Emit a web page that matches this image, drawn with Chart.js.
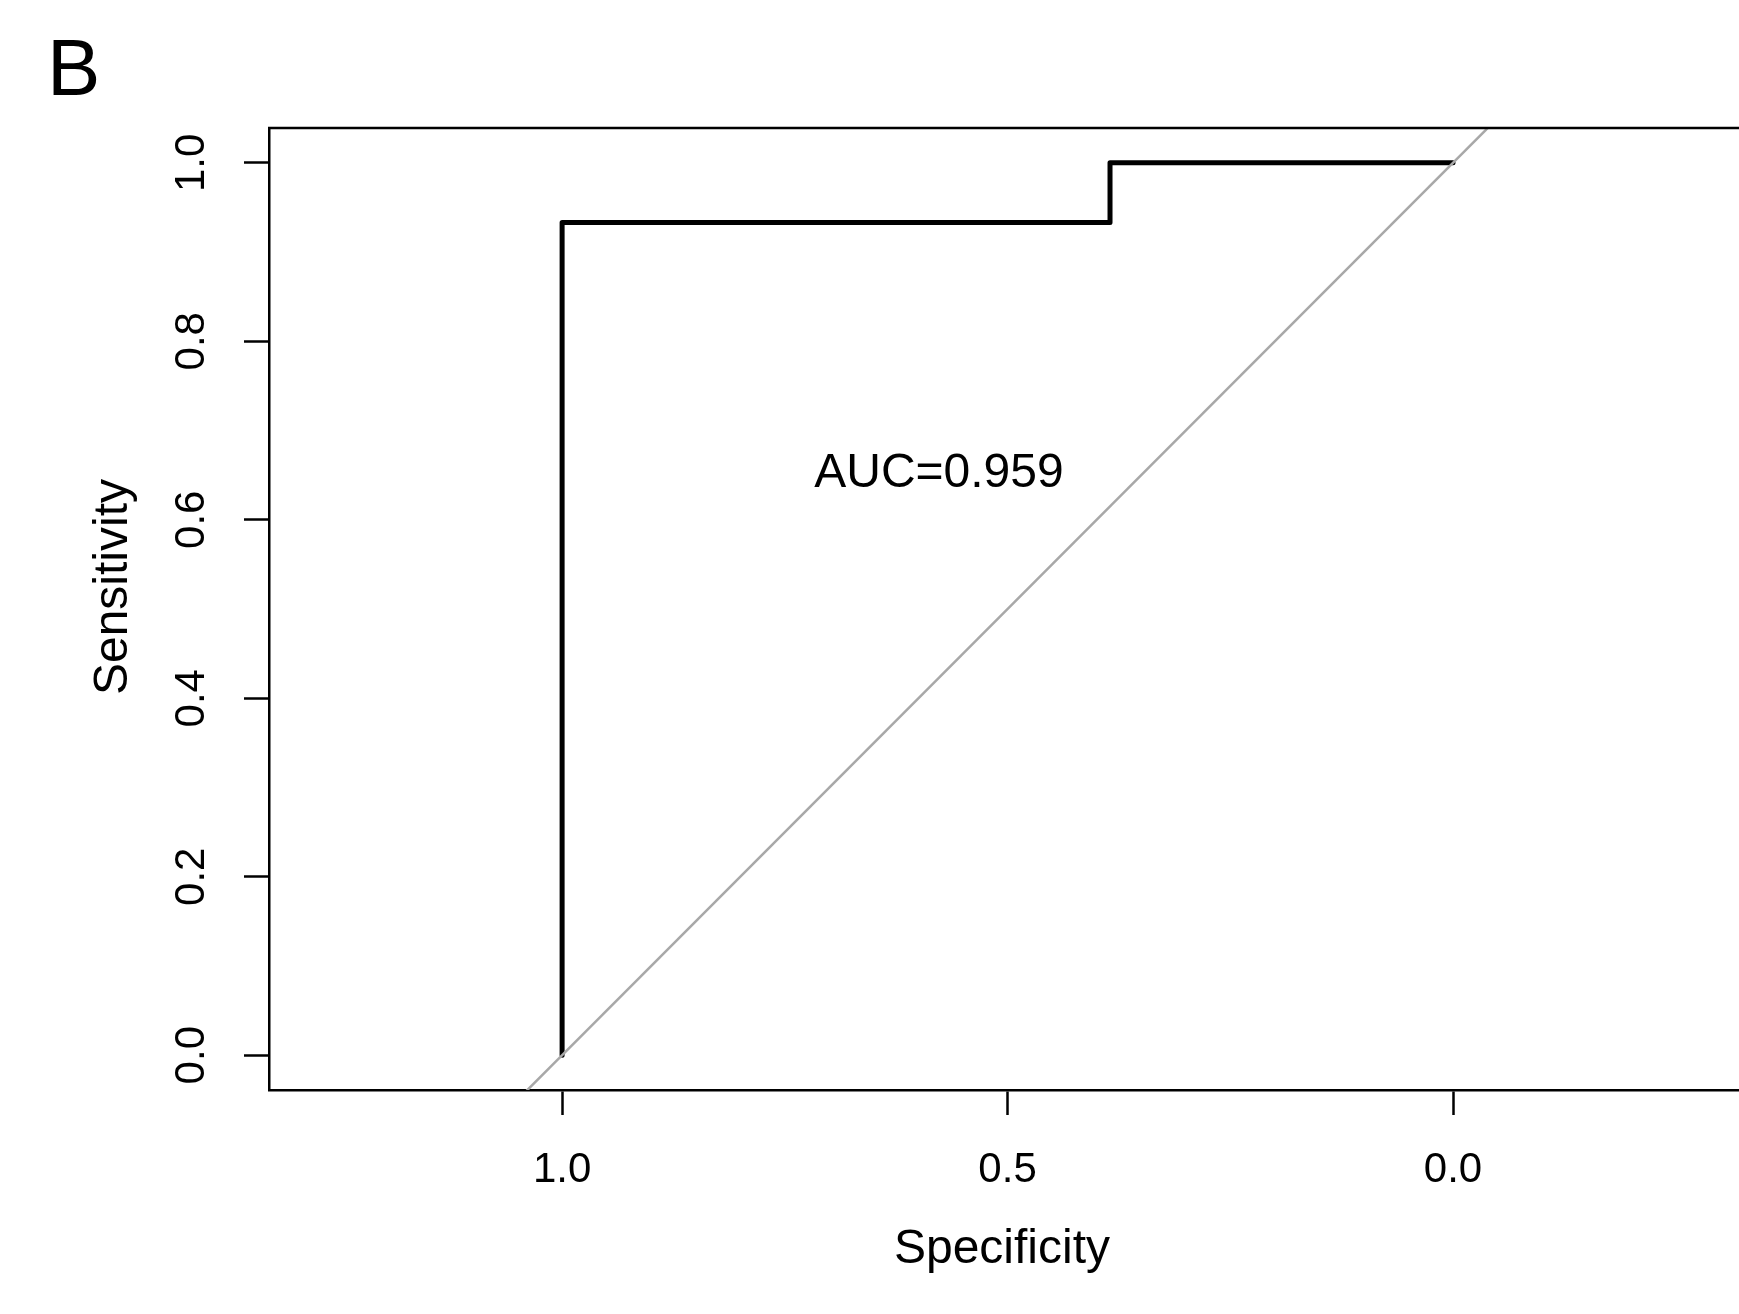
<!DOCTYPE html>
<html>
<head>
<meta charset="utf-8">
<script src="https://cdn.jsdelivr.net/npm/chart.js"></script>
<style>
  html, body { margin: 0; padding: 0; background: #fff; }
  canvas { display: block; }
</style>
</head>
<body>
<canvas id="roc" width="1739" height="1314"></canvas>
<script>
// ROC curve points (specificity on x, reversed)
const specificity = [1.0, 1.0, 0.385, 0.385, 0.0];
const sensitivity = [0.0, 0.933, 0.933, 1.0, 1.0];
// chance line, clipped by the plot area
const chanceSpec = [1.1, -0.1];
const chanceSens = [-0.1, 1.1];
const xTicks = [0.0, 0.5, 1.0];
const yTicks = [0.0, 0.2, 0.4, 0.6, 0.8, 1.0];
const aucText = 'AUC=0.959';
const aucPos = [0.577, 0.637];
const panelLabel = 'B';

Chart.defaults.font.family = "'Liberation Sans', Arial, sans-serif";
Chart.defaults.color = '#000';

const rocPoints = specificity.map((s, i) => ({ x: s, y: sensitivity[i] }));
const chancePoints = chanceSpec.map((s, i) => ({ x: s, y: chanceSens[i] }));

// frame top line + free text (titles, AUC, panel letter)
const extras = {
  id: 'extras',
  afterDraw(chart) {
    const ctx = chart.ctx;
    const a = chart.chartArea;
    const xs = chart.scales.x, ys = chart.scales.y;
    ctx.save();
    ctx.strokeStyle = '#000';
    ctx.lineWidth = 2.5;
    ctx.beginPath();
    ctx.moveTo(a.left - 1, a.top);
    ctx.lineTo(a.right, a.top);
    ctx.stroke();

    ctx.fillStyle = '#000';
    ctx.textAlign = 'center';
    ctx.textBaseline = 'alphabetic';
    ctx.font = "48px 'Liberation Sans', Arial, sans-serif";
    ctx.fillText(aucText, xs.getPixelForValue(aucPos[0]), ys.getPixelForValue(aucPos[1]));
    ctx.fillText('Specificity', 1002, 1263);

    ctx.save();
    ctx.translate(127, 587);
    ctx.rotate(-Math.PI / 2);
    ctx.fillText('Sensitivity', 0, 0);
    ctx.restore();

    ctx.textAlign = 'left';
    ctx.font = "80px 'Liberation Sans', Arial, sans-serif";
    ctx.fillText(panelLabel, 47, 95);
    ctx.restore();
  }
};

new Chart(document.getElementById('roc'), {
  type: 'scatter',
  data: {
    datasets: [
      {
        label: 'chance',
        data: chancePoints,
        showLine: true,
        borderColor: '#a8a8a8',
        borderWidth: 2.5,
        pointRadius: 0
      },
      {
        label: 'ROC',
        data: rocPoints,
        showLine: true,
        borderColor: '#000',
        borderWidth: 5,
        borderCapStyle: 'round',
        borderJoinStyle: 'round',
        pointRadius: 0
      }
    ]
  },
  options: {
    responsive: false,
    animation: false,
    layout: { padding: { top: 128, right: 0, left: 0, bottom: 0 } },
    plugins: { legend: { display: false }, tooltip: { enabled: false } },
    scales: {
      x: {
        type: 'linear',
        reverse: true,
        min: -0.321,
        max: 1.329,
        afterBuildTicks: s => { s.ticks = xTicks.map(v => ({ value: v })); },
        afterFit: s => { s.height = 224; },
        ticks: {
          callback: v => v.toFixed(1),
          font: { size: 42 },
          padding: 30,
          maxRotation: 0
        },
        grid: { drawOnChartArea: false, tickLength: 25, color: '#000', tickWidth: 2.5 },
        border: { color: '#000', width: 2.5 }
      },
      y: {
        type: 'linear',
        min: -0.039,
        max: 1.039,
        afterBuildTicks: s => { s.ticks = yTicks.map(v => ({ value: v })); },
        afterFit: s => { s.width = 269; },
        ticks: {
          callback: v => v.toFixed(1),
          font: { size: 42 },
          padding: 22,
          minRotation: 90,
          maxRotation: 90,
          crossAlign: 'center'
        },
        grid: { drawOnChartArea: false, tickLength: 25, color: '#000', tickWidth: 2.5 },
        border: { color: '#000', width: 2.5 }
      }
    }
  },
  plugins: [extras]
});
</script>
</body>
</html>
